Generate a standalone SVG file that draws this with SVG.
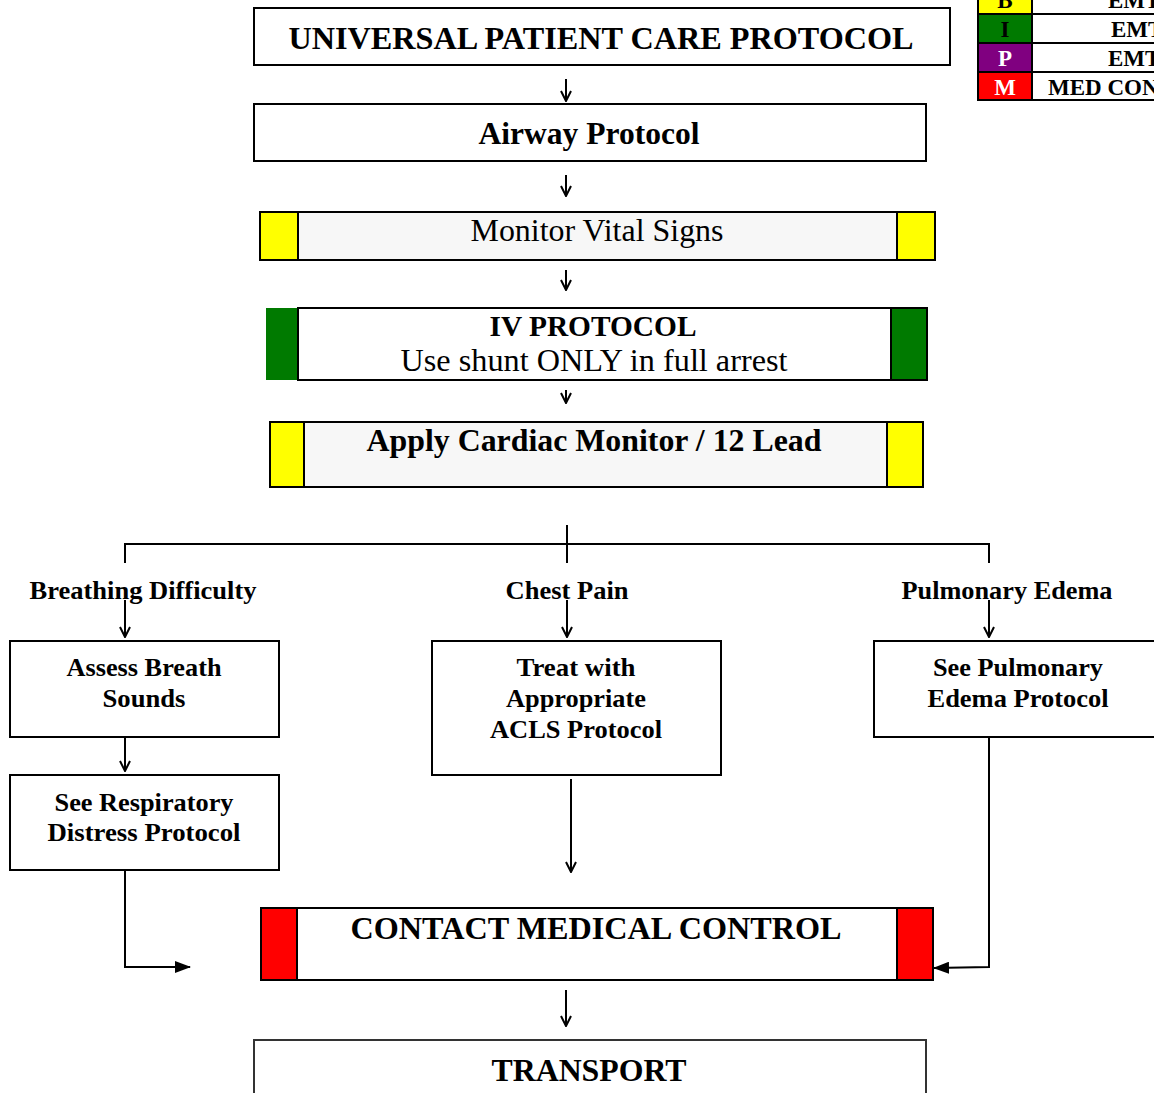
<svg xmlns="http://www.w3.org/2000/svg" width="1154" height="1093" viewBox="0 0 1154 1093">
<style>
.box{fill:#fff;stroke:#000;stroke-width:2}
.gray{fill:#f7f7f7;stroke:#000;stroke-width:2}
.t{font-family:"Liberation Serif","Times New Roman",serif;font-weight:bold;text-anchor:middle;fill:#000}
.r{font-family:"Liberation Serif","Times New Roman",serif;font-weight:normal;text-anchor:middle;fill:#000}
.big{font-size:32px}
.sm{font-size:26px}
.lg{font-family:"Liberation Serif","Times New Roman",serif;font-weight:bold;font-size:23px}
.c{fill:none;stroke:#000;stroke-width:2}
</style>
<defs>
<marker id="open" viewBox="0 0 12 12" refX="11" refY="6" markerWidth="12" markerHeight="12" markerUnits="userSpaceOnUse" orient="auto">
<path d="M1,1 L11,6 L1,11" fill="none" stroke="#000" stroke-width="2"/>
</marker>
<marker id="filled" viewBox="0 0 16 12" refX="15" refY="6" markerWidth="16" markerHeight="12" markerUnits="userSpaceOnUse" orient="auto">
<path d="M0,0 L16,6 L0,12 z" fill="#000"/>
</marker>
</defs>
<rect width="1154" height="1093" fill="#fff"/>

<g id="legend">
<rect x="978" y="-16" width="54" height="30" fill="#ffff00" stroke="#000" stroke-width="2"/>
<rect x="1032" y="-16" width="130" height="30" fill="#fff" stroke="#000" stroke-width="2"/>
<rect x="978" y="14" width="54" height="29" fill="#007a00" stroke="#000" stroke-width="2"/>
<rect x="1032" y="14" width="130" height="29" fill="#fff" stroke="#000" stroke-width="2"/>
<rect x="978" y="43" width="54" height="29" fill="#800080" stroke="#000" stroke-width="2"/>
<rect x="1032" y="43" width="130" height="29" fill="#fff" stroke="#000" stroke-width="2"/>
<rect x="978" y="72" width="54" height="28" fill="#ff0000" stroke="#000" stroke-width="2"/>
<rect x="1032" y="72" width="130" height="28" fill="#fff" stroke="#000" stroke-width="2"/>
<text class="lg" x="1005" y="8" text-anchor="middle" fill="#000">B</text>
<text class="lg" x="1005" y="37" text-anchor="middle" fill="#000">I</text>
<text class="lg" x="1005" y="66" text-anchor="middle" fill="#fff">P</text>
<text class="lg" x="1005" y="95" text-anchor="middle" fill="#fff">M</text>
<text class="lg" x="1108" y="8" fill="#000">EMT</text>
<text class="lg" x="1111" y="37" fill="#000">EMT</text>
<text class="lg" x="1108" y="66" fill="#000">EMT</text>
<text class="lg" x="1048" y="95" fill="#000">MED CON</text>
</g>

<g id="universal">
<rect class="box" x="254" y="8" width="696" height="57"/>
<text class="t big" x="601" y="49" textLength="625" lengthAdjust="spacingAndGlyphs">UNIVERSAL PATIENT CARE PROTOCOL</text>
</g>

<g id="airway">
<rect class="box" x="254" y="104" width="672" height="57"/>
<text class="t big" x="589" y="144" textLength="221" lengthAdjust="spacingAndGlyphs">Airway Protocol</text>
</g>

<g id="vitals">
<rect class="gray" x="260" y="212" width="675" height="48"/>
<rect x="261" y="213" width="37" height="46" fill="#ffff00"/>
<rect x="897" y="213" width="37" height="46" fill="#ffff00"/>
<line x1="298" y1="212" x2="298" y2="260" stroke="#000" stroke-width="2"/>
<line x1="897" y1="212" x2="897" y2="260" stroke="#000" stroke-width="2"/>
<text class="r" x="597" y="241" font-size="31" textLength="253" lengthAdjust="spacingAndGlyphs">Monitor Vital Signs</text>
</g>

<g id="iv">
<rect x="266" y="308" width="32" height="72" fill="#007a00"/>
<rect class="box" x="298" y="308" width="629" height="72"/>
<rect x="891" y="309" width="35" height="70" fill="#007a00"/>
<line x1="891" y1="308" x2="891" y2="380" stroke="#000" stroke-width="2"/>
<text class="t" x="593" y="336" font-size="29" textLength="207" lengthAdjust="spacingAndGlyphs">IV PROTOCOL</text>
<text class="r" x="594" y="371" font-size="31" textLength="387" lengthAdjust="spacingAndGlyphs">Use shunt ONLY in full arrest</text>
</g>

<g id="cardiac">
<rect class="gray" x="270" y="422" width="653" height="65"/>
<rect x="271" y="423" width="33" height="63" fill="#ffff00"/>
<rect x="887" y="423" width="35" height="63" fill="#ffff00"/>
<line x1="304" y1="422" x2="304" y2="487" stroke="#000" stroke-width="2"/>
<line x1="887" y1="422" x2="887" y2="487" stroke="#000" stroke-width="2"/>
<text class="t big" x="594" y="451" textLength="455" lengthAdjust="spacingAndGlyphs">Apply Cardiac Monitor / 12 Lead</text>
</g>

<g id="lbl-breathing">
<text class="t sm" x="143" y="599" textLength="227" lengthAdjust="spacingAndGlyphs">Breathing Difficulty</text>
</g>
<g id="lbl-chest">
<text class="t sm" x="567" y="599" textLength="123" lengthAdjust="spacingAndGlyphs">Chest Pain</text>
</g>
<g id="lbl-edema">
<text class="t sm" x="1007" y="599" textLength="211" lengthAdjust="spacingAndGlyphs">Pulmonary Edema</text>
</g>

<g id="assess">
<rect class="box" x="10" y="641" width="269" height="96"/>
<text class="t sm" x="144" y="676" textLength="155" lengthAdjust="spacingAndGlyphs">Assess Breath</text>
<text class="t sm" x="144" y="707" textLength="83" lengthAdjust="spacingAndGlyphs">Sounds</text>
</g>

<g id="respiratory">
<rect class="box" x="10" y="775" width="269" height="95"/>
<text class="t sm" x="144" y="811" textLength="179" lengthAdjust="spacingAndGlyphs">See Respiratory</text>
<text class="t sm" x="144" y="841" textLength="193" lengthAdjust="spacingAndGlyphs">Distress Protocol</text>
</g>

<g id="acls">
<rect class="box" x="432" y="641" width="289" height="134"/>
<text class="t sm" x="576" y="676" textLength="119" lengthAdjust="spacingAndGlyphs">Treat with</text>
<text class="t sm" x="576" y="707" textLength="140" lengthAdjust="spacingAndGlyphs">Appropriate</text>
<text class="t sm" x="576" y="738" textLength="172" lengthAdjust="spacingAndGlyphs">ACLS Protocol</text>
</g>

<g id="pulmonary">
<rect class="box" x="874" y="641" width="290" height="96"/>
<text class="t sm" x="1018" y="676" textLength="170" lengthAdjust="spacingAndGlyphs">See Pulmonary</text>
<text class="t sm" x="1018" y="707" textLength="181" lengthAdjust="spacingAndGlyphs">Edema Protocol</text>
</g>

<g id="medcontrol">
<rect x="261" y="908" width="36" height="72" fill="#ff0000"/>
<rect x="897" y="908" width="36" height="72" fill="#ff0000"/>
<rect x="261" y="908" width="672" height="72" fill="none" stroke="#000" stroke-width="2"/>
<line x1="297" y1="908" x2="297" y2="980" stroke="#000" stroke-width="2"/>
<line x1="897" y1="908" x2="897" y2="980" stroke="#000" stroke-width="2"/>
<text class="t big" x="596" y="939" textLength="491" lengthAdjust="spacingAndGlyphs">CONTACT MEDICAL CONTROL</text>
</g>

<g id="transport">
<rect x="254" y="1040" width="672" height="70" fill="#fff" stroke="#333" stroke-width="2"/>
<text class="t big" x="589" y="1081" textLength="195" lengthAdjust="spacingAndGlyphs">TRANSPORT</text>
</g>

<g id="connectors">
<line class="c" x1="566" y1="79" x2="566" y2="101" marker-end="url(#open)"/>
<line class="c" x1="566" y1="175" x2="566" y2="196" marker-end="url(#open)"/>
<line class="c" x1="566" y1="270" x2="566" y2="290" marker-end="url(#open)"/>
<line class="c" x1="566" y1="390" x2="566" y2="403" marker-end="url(#open)"/>
<line class="c" x1="567" y1="525" x2="567" y2="563"/>
<polyline class="c" points="125,563 125,544 989,544 989,563"/>
<line class="c" x1="125" y1="600" x2="125" y2="637" marker-end="url(#open)"/>
<line class="c" x1="567" y1="600" x2="567" y2="637" marker-end="url(#open)"/>
<line class="c" x1="989" y1="600" x2="989" y2="637" marker-end="url(#open)"/>
<line class="c" x1="125" y1="737" x2="125" y2="771" marker-end="url(#open)"/>
<line class="c" x1="571" y1="779" x2="571" y2="872" marker-end="url(#open)"/>
<polyline class="c" points="125,870 125,967 190,967" marker-end="url(#filled)"/>
<polyline class="c" points="989,737 989,967 934,968" marker-end="url(#filled)"/>
<line class="c" x1="566" y1="990" x2="566" y2="1026" marker-end="url(#open)"/>
</g>
</svg>
